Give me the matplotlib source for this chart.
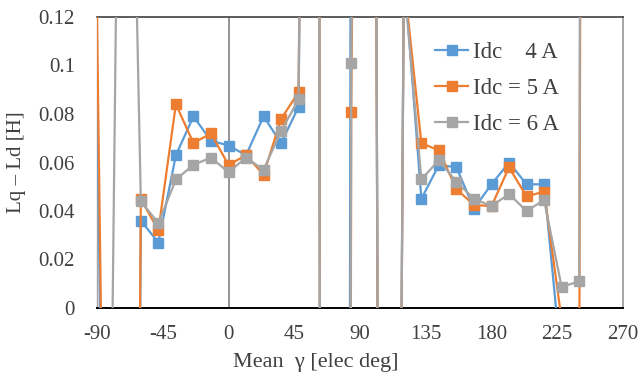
import numpy as np
import matplotlib
matplotlib.use('Agg')
import matplotlib.pyplot as plt

plt.rcParams['font.family'] = ['Liberation Serif', 'DejaVu Serif']

# Mean gamma [elec deg]; points outside 0..0.12 are off-scale estimates
gamma = [-96, -84, -72, -60, -48, -36, -24, -12, 0, 12, 24, 36, 48, 60, 72, 84, 96,
         108, 120, 132, 144, 156, 168, 180, 192, 204, 216, 228, 240, 252]

idc4 = [0.4, -0.2, -1.0, 0.036, 0.027, 0.063, 0.079, 0.069, 0.067, 0.063, 0.079, 0.068,
        0.083, 1.0, -3.8, 0.3, 0.95, -0.95, 0.14, 0.045, 0.059, 0.058, 0.041, 0.051,
        0.060, 0.051, 0.051, -0.024, -0.5, -0.5]
idc5 = [0.39, -0.15, -1.0, 0.045, 0.032, 0.084, 0.068, 0.072, 0.059, 0.063, 0.055, 0.078,
        0.089, 1.0, -3.8, 0.081, 0.95, -0.95, 0.136, 0.068, 0.065, 0.049, 0.0425, 0.042,
        0.058, 0.046, 0.048, -0.005, -0.05, 3.0]
idc6 = [-0.5, -0.25, 0.39, 0.044, 0.035, 0.053, 0.059, 0.062, 0.056, 0.062, 0.057, 0.073,
        0.086, 1.0, -3.8, 0.101, 0.95, -0.95, 0.135, 0.053, 0.061, 0.052, 0.045, 0.042,
        0.047, 0.040, 0.0445, 0.0087, 0.011, 3.0]

labels = ['Idc    4 A', 'Idc = 5 A', 'Idc = 6 A']
colors = ['#5B9BD5', '#ED7D31', '#A5A5A5']
xticks = [-90, -45, 0, 45, 90, 135, 180, 225, 270]
yticks = [0, 0.02, 0.04, 0.06, 0.08, 0.1, 0.12]

txt = '#404040'

fig = plt.figure(figsize=(6.41, 3.76), dpi=100)
ax = fig.add_axes([97/641, 68/376, 526/641, 291/376])

# vertical axis line crossing at 0
ax.axvline(0, color='#8C8C8C', lw=1.3, zorder=1)

for y, lab, c in zip([idc4, idc5, idc6], labels, colors):
    ax.plot(gamma, y, color=c, lw=1.6, marker='s', markersize=6.5, label=lab, zorder=3)

ax.set_xlim(-90, 270)
ax.set_ylim(0, 0.12)
ax.set_xticks(xticks)
ax.set_xticklabels([str(t) for t in xticks])
ax.set_yticks(yticks)
ax.set_yticklabels(['0', '0.02', '0.04', '0.06', '0.08', '0.1', '0.12'])
ax.tick_params(axis='both', length=0, labelsize=15, labelcolor=txt)
ax.tick_params(axis='y', pad=16)
ax.tick_params(axis='x', pad=12)

ax.spines['bottom'].set_color('black')
ax.spines['bottom'].set_linewidth(1.4)
ax.spines['top'].set_color('#404040')
ax.spines['top'].set_linewidth(1.2)
ax.spines['right'].set_color('#A5A5A5')
ax.spines['right'].set_linewidth(1.4)
ax.spines['left'].set_color('#A5A5A5')
ax.spines['left'].set_linewidth(1.0)

leg = ax.legend(loc='upper left', bbox_to_anchor=(0.643, 0.915), frameon=False,
                fontsize=16.5, handlelength=1.45, handletextpad=0.2, labelspacing=0.65,
                borderpad=0, borderaxespad=0)
for t in leg.get_texts():
    t.set_color(txt)

fig.text(17/641, 1 - 162/376, 'Lq – Ld [H]', rotation=90, ha='center', va='center',
         fontsize=15, color=txt)
fig.text(316/641, 1 - 362/376, 'Mean  γ [elec deg]', ha='center', va='center',
         fontsize=16, color=txt)

fig.savefig('out.png', dpi=100)
